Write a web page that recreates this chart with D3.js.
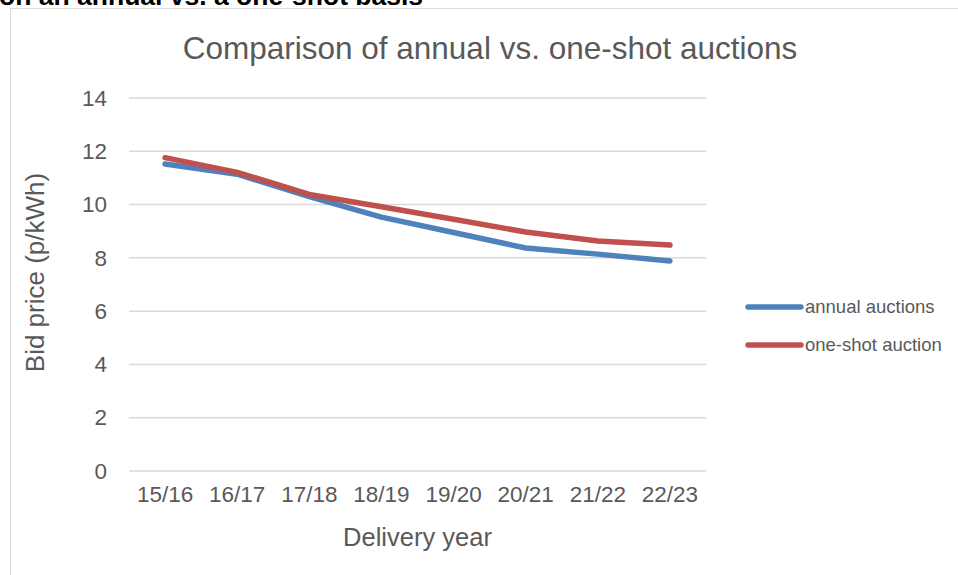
<!DOCTYPE html>
<html>
<head>
<meta charset="utf-8">
<script src="https://cdn.jsdelivr.net/npm/d3@7"></script>
<style>
  body { margin: 0; background: #fff; }
  text { font-family: "Liberation Sans", Arial, sans-serif; }
</style>
</head>
<body>
<div id="chart"></div>
<script>
/* DATA */
const years = ["15/16", "16/17", "17/18", "18/19", "19/20", "20/21", "21/22", "22/23"];
const annual = [11.52, 11.14, 10.3, 9.53, 8.95, 8.37, 8.14, 7.88];
const oneShot = [11.76, 11.21, 10.38, 9.92, 9.45, 8.97, 8.63, 8.48];
const yTicks = [0, 2, 4, 6, 8, 10, 12, 14];

const width = 958, height = 575;
const plot = { left: 129, right: 706, top: 98, bottom: 471 };
const textColor = "#595959";

const svg = d3.select("#chart").append("svg")
  .attr("width", width)
  .attr("height", height);

// heading text cut off by the top of the picture
svg.append("text")
  .attr("x", -1)
  .attr("y", 5)
  .attr("font-size", 26.5)
  .attr("font-weight", "bold")
  .attr("fill", "#000")
  .text("on an annual vs. a one-shot basis");

// chart frame
svg.append("rect")
  .attr("x", 10.5)
  .attr("y", 8.5)
  .attr("width", width)
  .attr("height", height)
  .attr("fill", "none")
  .attr("stroke", "#d9d9d9")
  .attr("stroke-width", 1);

// scales
const xScale = d3.scaleBand()
  .domain(years)
  .range([plot.left, plot.right]);

const yScale = d3.scaleLinear()
  .domain([0, 14])
  .range([plot.bottom, plot.top]);

// gridlines
svg.append("g")
  .selectAll("line")
  .data(yTicks)
  .join("line")
  .attr("x1", plot.left)
  .attr("x2", plot.right)
  .attr("y1", d => yScale(d))
  .attr("y2", d => yScale(d))
  .attr("stroke", "#d9d9d9")
  .attr("stroke-width", 1.5);

// y axis labels
const yAxis = d3.axisLeft(yScale).tickValues(yTicks).tickSize(0).tickPadding(0);
const yAxisGroup = svg.append("g")
  .attr("transform", `translate(${107}, 0)`)
  .call(yAxis);
yAxisGroup.select(".domain").remove();
yAxisGroup.selectAll("text")
  .attr("font-size", 22.5)
  .attr("font-family", "Liberation Sans, Arial, sans-serif")
  .attr("fill", textColor);

// x axis labels
const xAxis = d3.axisBottom(xScale).tickSize(0).tickPadding(0);
const xAxisGroup = svg.append("g")
  .attr("transform", `translate(0, ${plot.bottom + 15})`)
  .call(xAxis);
xAxisGroup.select(".domain").remove();
xAxisGroup.selectAll("text")
  .attr("font-size", 22.5)
  .attr("font-family", "Liberation Sans, Arial, sans-serif")
  .attr("fill", textColor);

// titles
svg.append("text")
  .attr("x", 490)
  .attr("y", 59)
  .attr("text-anchor", "middle")
  .attr("font-size", 31.5)
  .attr("fill", textColor)
  .text("Comparison of annual vs. one-shot auctions");

svg.append("text")
  .attr("x", (plot.left + plot.right) / 2)
  .attr("y", 546)
  .attr("text-anchor", "middle")
  .attr("font-size", 25.5)
  .attr("fill", textColor)
  .text("Delivery year");

svg.append("text")
  .attr("transform", `translate(44, ${(plot.top + plot.bottom) / 2 - 12}) rotate(-90)`)
  .attr("text-anchor", "middle")
  .attr("font-size", 26)
  .attr("fill", textColor)
  .text("Bid price (p/kWh)");

// lines
const series = [
  { name: "annual auctions", values: annual, color: "#4F81BD" },
  { name: "one-shot auction", values: oneShot, color: "#C0504D" }
];

const line = d3.line()
  .x((d, i) => xScale(years[i]) + xScale.bandwidth() / 2)
  .y(d => yScale(d));

svg.append("g")
  .selectAll("path")
  .data(series)
  .join("path")
  .attr("d", d => line(d.values))
  .attr("fill", "none")
  .attr("stroke", d => d.color)
  .attr("stroke-width", 5.5)
  .attr("stroke-linecap", "round")
  .attr("stroke-linejoin", "round");

// legend
const legend = svg.append("g")
  .selectAll("g")
  .data(series)
  .join("g")
  .attr("transform", (d, i) => `translate(748, ${307 + i * 38})`);

legend.append("line")
  .attr("x1", 0)
  .attr("x2", 53)
  .attr("stroke", d => d.color)
  .attr("stroke-width", 5.5)
  .attr("stroke-linecap", "round");

legend.append("text")
  .attr("x", 57)
  .attr("dy", "0.35em")
  .attr("font-size", 18.5)
  .attr("fill", textColor)
  .text(d => d.name);
</script>
</body>
</html>
